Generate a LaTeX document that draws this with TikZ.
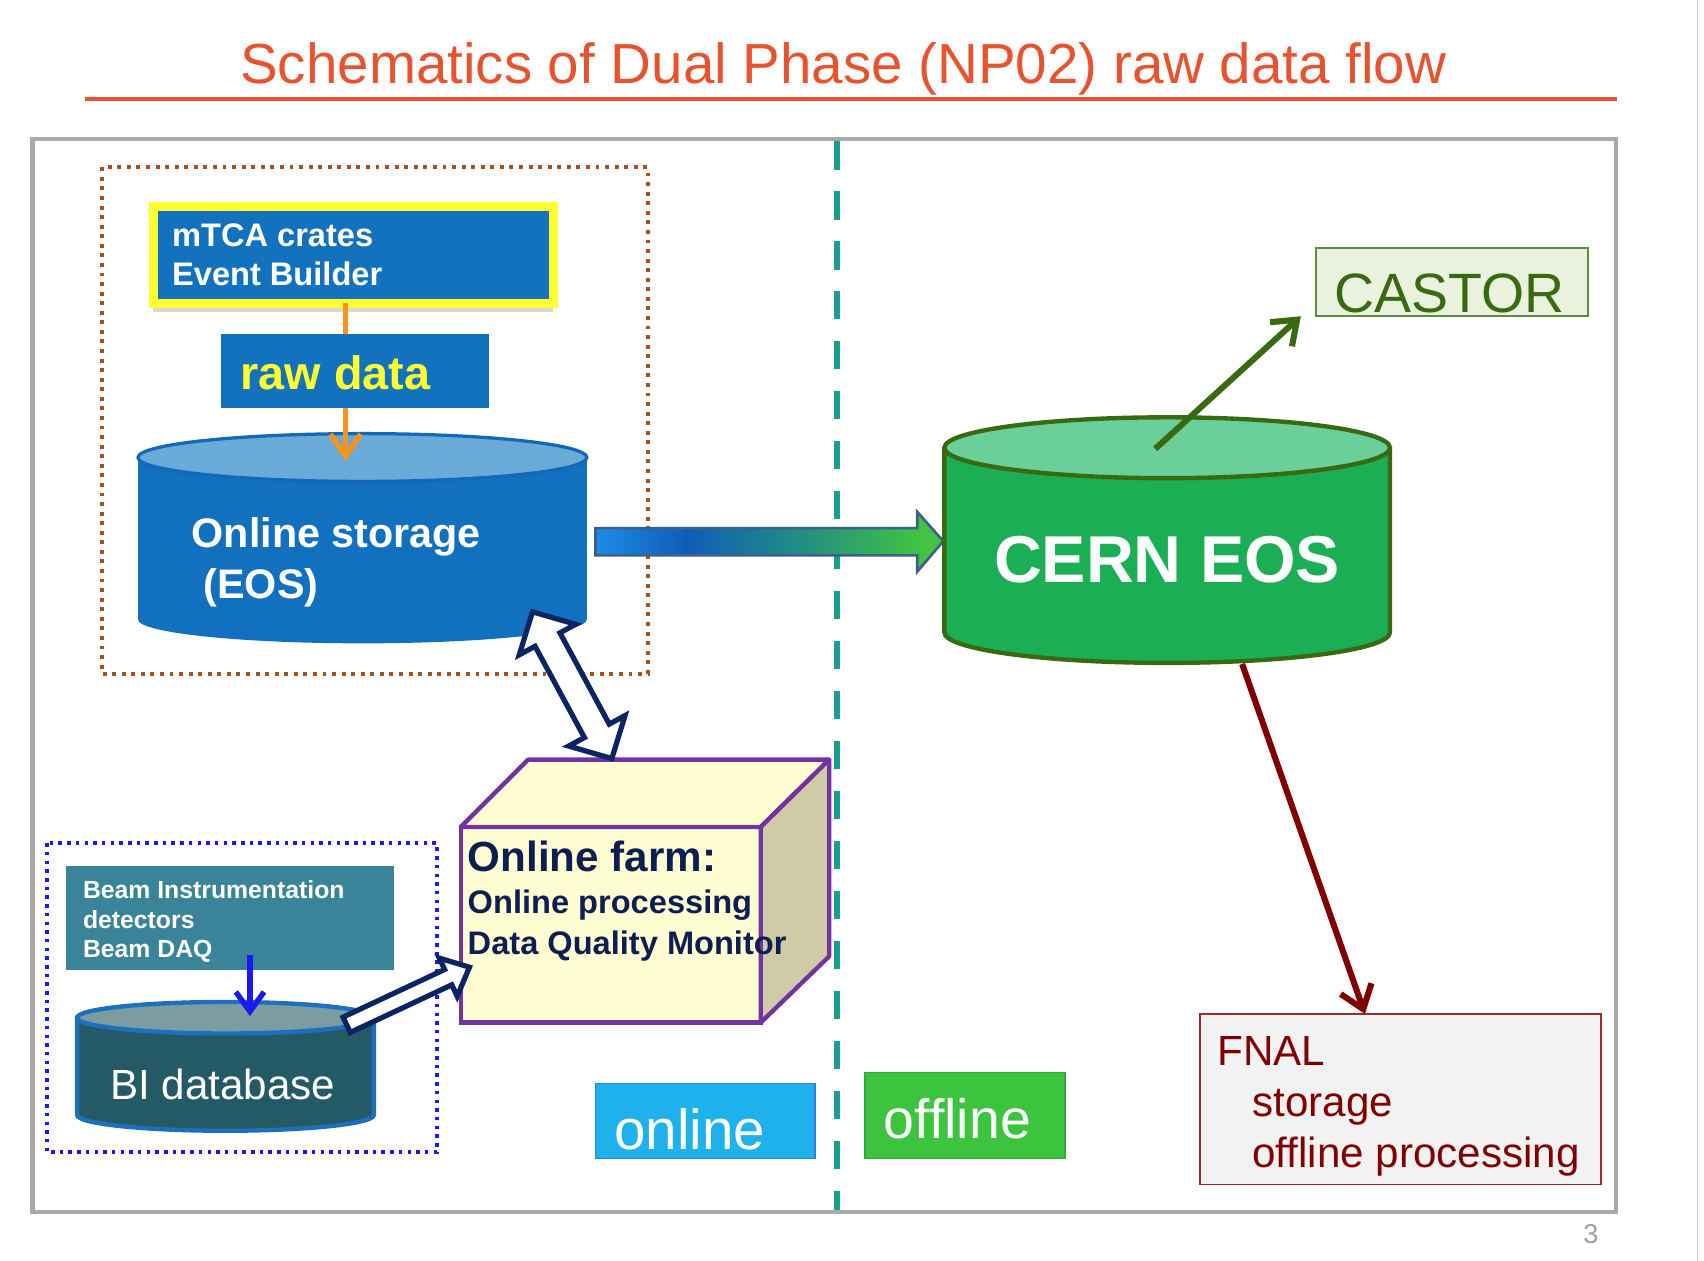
\documentclass[tikz,border=0pt]{standalone}
\usepackage{fontspec}
\setmainfont{Liberation Sans}
\usetikzlibrary{arrows.meta,calc,shadows}
\definecolor{titlecol}{HTML}{E8532F}
\definecolor{framegray}{HTML}{A9A9A9}
\definecolor{tealdash}{HTML}{1A9C8F}
\definecolor{browndot}{HTML}{A5521F}
\definecolor{yellowc}{HTML}{FFFF33}
\definecolor{mtcablue}{HTML}{1272BE}
\definecolor{orangec}{HTML}{F7941D}
\definecolor{stbody}{HTML}{1271BE}
\definecolor{sttop}{HTML}{6AAAD7}
\definecolor{stline}{HTML}{1368B9}
\definecolor{ba1}{HTML}{1B8CE6}
\definecolor{ba2}{HTML}{105DB8}
\definecolor{ba3}{HTML}{1F8A86}
\definecolor{ba4}{HTML}{40C442}
\definecolor{baline}{HTML}{3E5E8C}
\definecolor{cernbody}{HTML}{1BAE55}
\definecolor{cerntop}{HTML}{6BCF99}
\definecolor{cernline}{HTML}{386A12}
\definecolor{castorfill}{HTML}{EAF1DE}
\definecolor{castorline}{HTML}{5E8C3A}
\definecolor{castortext}{HTML}{386A12}
\definecolor{fnalfill}{HTML}{F2F2F2}
\definecolor{fnalline}{HTML}{A02A2C}
\definecolor{fnaltext}{HTML}{800000}
\definecolor{darkredc}{HTML}{800000}
\definecolor{farmfront}{HTML}{FFFDD2}
\definecolor{farmside}{HTML}{CFCBA7}
\definecolor{farmline}{HTML}{7232A0}
\definecolor{farmtext}{HTML}{0D1E52}
\definecolor{bluedot}{HTML}{1A1AF0}
\definecolor{beamfill}{HTML}{3A8499}
\definecolor{bibody}{HTML}{245A66}
\definecolor{bitop}{HTML}{7B9DA2}
\definecolor{biline}{HTML}{1E6FBE}
\definecolor{bluearrowc}{HTML}{1A1AF0}
\definecolor{navyc}{HTML}{0B2463}
\definecolor{onlinefill}{HTML}{1FB1EC}
\definecolor{onlineline}{HTML}{2A80E0}
\definecolor{offlinefill}{HTML}{3DC43F}
\definecolor{offlineline}{HTML}{36A839}
\definecolor{pagegray}{HTML}{A0A0A0}
\pgfdeclarehorizontalshading{bigarrowshade}{100bp}{color(0bp)=(ba1); color(25bp)=(ba1); color(38bp)=(ba2); color(53bp)=(ba3); color(72bp)=(ba4); color(100bp)=(ba4)}
\newcommand\myfs[1]{\fontsize{#1}{#1}\selectfont}
\begin{document}
\begin{tikzpicture}[x=0.5pt,y=-0.5pt,
  lbl/.style={inner sep=0pt, anchor=base west},
  box/.style={rectangle, inner sep=0pt, outer sep=0pt},
  thinarrow/.style={line width=2.8pt, -{Straight Barb[length=10pt,width=15pt]}},
  hollow/.style={fill=white, draw=navyc, line width=2.4pt, line join=miter}]
\useasboundingbox (0,0) rectangle (1568,1160);
% title
\node[lbl, anchor=base, text=titlecol, font=\myfs{26}] (title) at (776,77) {Schematics of Dual Phase (NP02) raw data flow};
\draw[titlecol, line width=1.5pt] (78,91) -- (1488,91);
% frame
\draw[framegray, line width=2pt] (30,128) rectangle (1487,1115);
\draw[framegray!60, line width=0.5pt] (1562,0) -- (1562,1160);
\node[lbl, anchor=base, text=pagegray, font=\myfs{12.5}] (pnum) at (1464,1144) {3};
% separator
\draw[tealdash, line width=2.5pt, dash pattern=on 13pt off 10pt] (770,130) -- (770,1113);
% dotted groups
\draw[browndot, line width=1.8pt, dash pattern=on 1.8pt off 2.6pt] (94,154) rectangle (596,620);
\draw[bluedot, line width=2pt, dash pattern=on 1.6pt off 2.4pt] (43,776) rectangle (402,1060);
% mTCA
\node[box, fill=mtcablue, draw=yellowc, line width=4pt, minimum width=184pt, minimum height=44.5pt, drop shadow={shadow xshift=0pt, shadow yshift=-4pt, opacity=0.3}] (mtca) at (325,234.5) {};
\node[lbl, text=white, font=\bfseries\myfs{15}] (mt1) at (158,227) {mTCA crates};
\node[lbl, text=white, font=\bfseries\myfs{15}] (mt2) at (158,263) {Event Builder};
% online storage
\fill[stbody] (127,421) rectangle (540,570);
\fill[stbody] (333.5,570) ellipse [x radius=206.5, y radius=22];
\filldraw[fill=sttop, draw=stline, line width=1.5pt] (333.5,421) ellipse [x radius=206.5, y radius=22];
\node[box, minimum width=206.5pt, minimum height=96.5pt] (storage) at (333.5,495.5) {};
\node[lbl, text=white, font=\bfseries\myfs{19}] (st1) at (176,504) {Online storage};
\node[lbl, text=white, font=\bfseries\myfs{19}] (st2) at (187,551) {(EOS)};
% orange arrow
\coordinate (oTip) at (318,424);
\draw[orangec, line width=2.5pt, -{Straight Barb[length=10pt,width=14pt]}] (mtca.south -| oTip) -- (oTip);
% raw data
\node[box, fill=mtcablue, minimum width=123.5pt, minimum height=34pt] (raw) at (326.5,341) {};
\node[lbl, text=yellowc, font=\bfseries\myfs{21.5}] (rawt) at (221,358) {raw data};
% big arrow
\coordinate (bigS) at (548,498);
\coordinate (bigE) at (868,498);
\shadedraw[shading=bigarrowshade, draw=baline, line width=1.2pt, line join=miter] ($(bigS)+(0,-12)$) -- ($(bigE)+(-24,-12)$) -- ($(bigE)+(-24,-27)$) -- (bigE) -- ($(bigE)+(-24,28)$) -- ($(bigE)+(-24,13)$) -- ($(bigS)+(0,13)$) -- cycle;
% CERN EOS
\fill[cernbody] (869,412) -- (869,582) arc[start angle=180,end angle=0,x radius=205,y radius=28] -- (1279,412) -- cycle;
\draw[cernline, line width=2pt] (869,412) -- (869,582) arc[start angle=180,end angle=0,x radius=205,y radius=28] -- (1279,412);
\filldraw[fill=cerntop, draw=cernline, line width=2pt] (1074,412) ellipse [x radius=205, y radius=28];
\node[box, minimum width=205pt, minimum height=113pt] (cern) at (1074,497) {};
\node[lbl, anchor=base, text=white, font=\bfseries\myfs{30.5}] (cernt) at (1074,536) {CERN EOS};
% CASTOR
\node[box, fill=castorfill, draw=castorline, line width=0.8pt, minimum width=125pt, minimum height=31.5pt] (castor) at (1336,259.5) {};
\node[lbl, anchor=base, text=castortext, font=\myfs{25.5}] (castort) at (1334,288) {CASTOR};
\coordinate (gS) at (1063,413);
\draw[cernline, thinarrow] (gS) -- ([xshift=-7pt]castor.south west);
% FNAL
\node[box, fill=fnalfill, draw=fnalline, line width=0.8pt, minimum width=184.5pt, minimum height=78.5pt] (fnal) at (1288.5,1011.5) {};
\node[lbl, text=fnaltext, font=\myfs{19.4}] (fn1) at (1120,980) {FNAL};
\node[lbl, text=fnaltext, font=\myfs{19.4}] (fn2) at (1152,1027) {storage};
\node[lbl, text=fnaltext, font=\myfs{19.4}] (fn3) at (1152,1074) {offline processing};
\coordinate (rS) at (1143,611);
\draw[darkredc, thinarrow] (rS) -- ([xshift=-16.25pt]fnal.north);
% online farm cube
\node[box, fill=farmfront, draw=farmline, line width=2pt, minimum width=138pt, minimum height=90pt] (farm) at (562,851) {};
\filldraw[fill=farmfront, draw=farmline, line width=2pt, line join=round] (farm.north west) -- ++(62,-62) -- ++(277,0) -- (farm.north east) -- cycle;
\filldraw[fill=farmside, draw=farmline, line width=2pt, line join=round] (farm.north east) -- ++(63,-62) -- ++(0,181) -- (farm.south east) -- cycle;
\node[lbl, text=farmtext, font=\bfseries\myfs{19.4}] (fa1) at (430,802) {Online farm:};
\node[lbl, text=farmtext, font=\bfseries\myfs{15}] (fa2) at (430,841) {Online processing};
\node[lbl, text=farmtext, font=\bfseries\myfs{15}] (fa3) at (430,878) {Data Quality Monitor};
% double arrow storage <-> farm
\coordinate (dA) at (490,563);
\coordinate (dB) at (563,698);
\coordinate (dAp) at ($(dA)!14.5pt!(dB)$);
\coordinate (dBp) at ($(dB)!14.5pt!(dA)$);
\filldraw[hollow] (dA) -- ($(dAp)!14.75pt!90:(dB)$) -- ($(dAp)!6.5pt!90:(dB)$) -- ($(dBp)!6.5pt!-90:(dA)$) -- ($(dBp)!14.75pt!-90:(dA)$) -- (dB) -- ($(dBp)!14.75pt!90:(dA)$) -- ($(dBp)!6.5pt!90:(dA)$) -- ($(dAp)!6.5pt!-90:(dB)$) -- ($(dAp)!14.75pt!-90:(dB)$) -- cycle;
% beam instrumentation
\node[box, fill=beamfill, minimum width=151pt, minimum height=48pt] (beam) at (212,845) {};
\node[lbl, text=white, font=\bfseries\myfs{11.4}] (be1) at (76,827) {Beam Instrumentation};
\node[lbl, text=white, font=\bfseries\myfs{11.4}] (be2) at (76,854) {detectors};
\node[lbl, text=white, font=\bfseries\myfs{11.4}] (be3) at (76,881) {Beam DAQ};
% BI database
\filldraw[fill=bibody, draw=biline, line width=2pt] (71,936.5) -- (71,1026) arc[start angle=180,end angle=0,x radius=136.5,y radius=14.5] -- (344,936.5) -- cycle;
\filldraw[fill=bitop, draw=biline, line width=2pt] (207.5,936.5) ellipse [x radius=136.5, y radius=14.5];
\node[box, minimum width=136.5pt, minimum height=59pt] (bidb) at (207.5,981) {};
\node[lbl, text=white, font=\myfs{19.4}] (bidbt) at (101,1012) {BI database};
\draw[bluearrowc, line width=2.5pt, -{Straight Barb[length=9pt,width=13pt]}] ([xshift=9pt,yshift=7pt]beam.south) -- ([xshift=11.25pt,yshift=-6.5pt]bidb.north);
% BI -> farm arrow
\coordinate (eS) at (319,943);
\coordinate (eE) at (432,890);
\coordinate (eEp) at ($(eE)!10.8pt!(eS)$);
\filldraw[hollow] ($(eS)!3.9pt!90:(eE)$) -- ($(eEp)!3.9pt!-90:(eS)$) -- ($(eEp)!9.7pt!-90:(eS)$) -- (eE) -- ($(eEp)!9.7pt!90:(eS)$) -- ($(eEp)!3.9pt!90:(eS)$) -- ($(eS)!3.9pt!-90:(eE)$) -- cycle;
% online / offline labels
\node[box, fill=onlinefill, draw=onlineline, line width=0.6pt, minimum width=101pt, minimum height=34.5pt] (online) at (649,1031.5) {};
\node[lbl, text=white, font=\myfs{26}] (onlinet) at (565,1058) {online};
\node[box, fill=offlinefill, draw=offlineline, line width=0.6pt, minimum width=92pt, minimum height=39.5pt] (offline) at (888,1026.5) {};
\node[lbl, text=white, font=\myfs{25.5}] (offlinet) at (813,1048) {offline};
\end{tikzpicture}
\end{document}
